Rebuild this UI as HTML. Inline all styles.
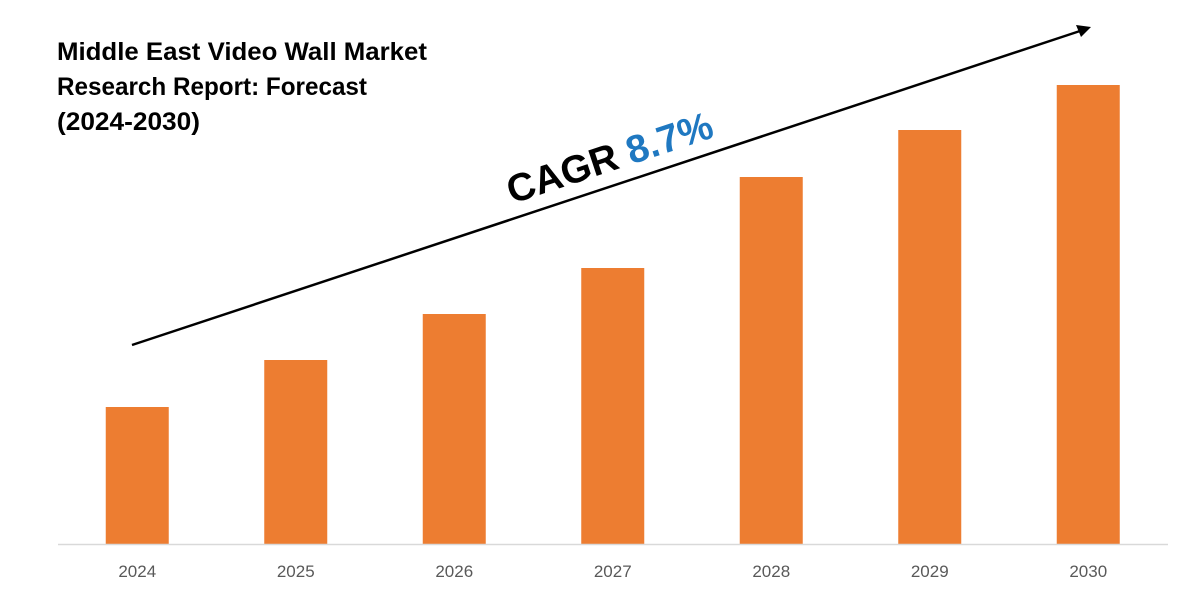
<!DOCTYPE html>
<html><head><meta charset="utf-8"><style>
body{margin:0;background:#fff;}
svg{display:block;font-family:"Liberation Sans",sans-serif;}
</style></head><body>
<svg id="chart" width="1200" height="600" viewBox="0 0 1200 600">
<g font-weight="bold" font-size="25" fill="#000">
<text x="57" y="60" textLength="370" lengthAdjust="spacingAndGlyphs">Middle East Video Wall Market</text>
<text x="57" y="95" textLength="310" lengthAdjust="spacingAndGlyphs">Research Report: Forecast</text>
<text x="57" y="130" textLength="143" lengthAdjust="spacingAndGlyphs">(2024-2030)</text>
</g>
<g id="bars"></g>
<line x1="58" y1="544.5" x2="1168" y2="544.5" stroke="#d9d9d9" stroke-width="1.5"/>
<g id="labels"></g>
<line x1="132" y1="345" x2="1080" y2="31" stroke="#000" stroke-width="2.5"/>
<polygon points="1091,27 1076,25 1081,37" fill="#000"/>
<text transform="translate(512,204) rotate(-18.3)" font-size="39" font-weight="bold" fill="#000">CAGR <tspan fill="#1f78c1">8.7%</tspan></text>
</svg>
<script>
const categories=["2024","2025","2026","2027","2028","2029","2030"];
const values=[137,184,230,276,367,414,459];
const x0=58,bandW=158.5,barW=63,base=544;
function xScale(i){return x0+bandW*i+bandW/2;}
function yScale(v){return base-v;}
const ns="http://www.w3.org/2000/svg";
const bars=document.getElementById('bars'),labels=document.getElementById('labels');
categories.forEach((c,i)=>{
const r=document.createElementNS(ns,'rect');
r.setAttribute('x',xScale(i)-barW/2);r.setAttribute('y',yScale(values[i]));
r.setAttribute('width',barW);r.setAttribute('height',base-yScale(values[i]));
r.setAttribute('fill','#ed7d31');


bars.appendChild(r);
const t=document.createElementNS(ns,'text');
t.setAttribute('x',xScale(i));t.setAttribute('y',577);
t.setAttribute('text-anchor','middle');t.setAttribute('font-size','17');t.setAttribute('fill','#595959');
t.textContent=c;


labels.appendChild(t);
});
</script>
</body></html>
